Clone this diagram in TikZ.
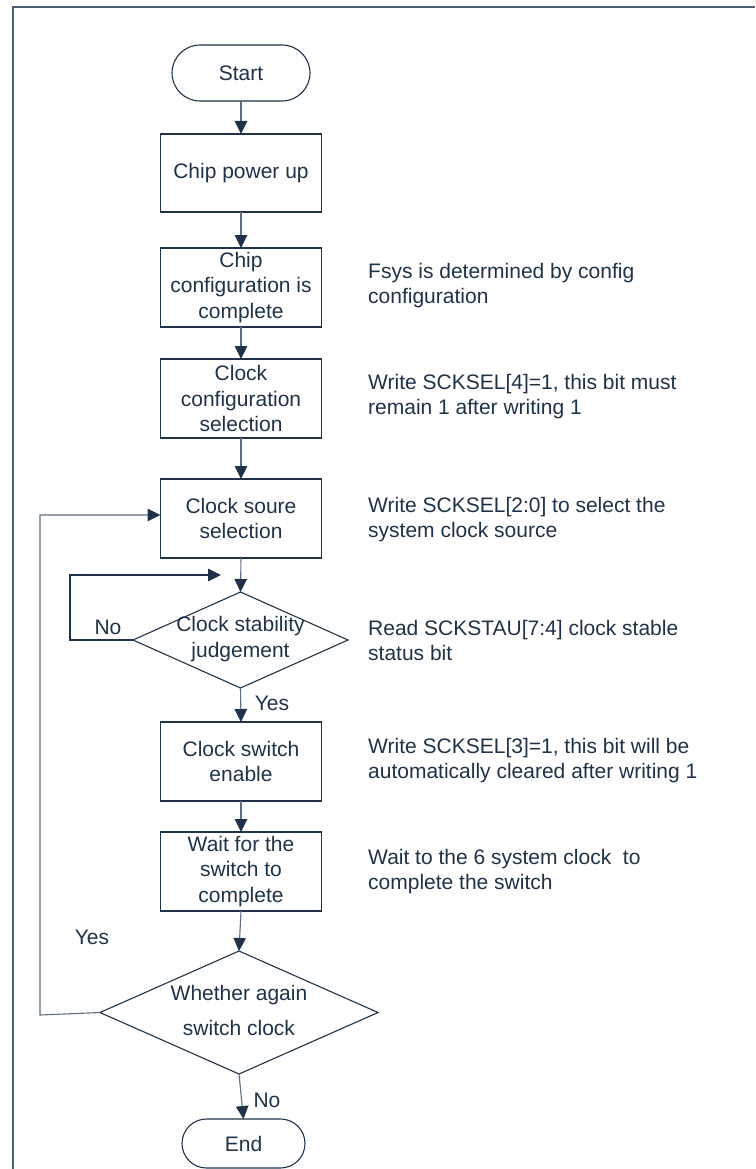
\documentclass[tikz,border=0pt]{standalone}
\usepackage{fontspec}
\setmainfont{Liberation Sans}
\usetikzlibrary{arrows.meta,shapes.geometric,shapes.misc}
\definecolor{navy}{HTML}{1F3247}
\definecolor{lgray}{HTML}{5E6E80}
\definecolor{framec}{HTML}{4A6075}
\begin{document}
\begin{tikzpicture}[x=1pt,y=-1pt,
  font=\fontsize{21}{25.5}\selectfont,
  box/.style={draw=navy, line width=1.1pt, minimum width=161pt, minimum height=79pt,
    inner sep=0pt, outer sep=0pt, align=center, text=navy},
  term/.style={rounded rectangle, draw=navy, line width=1.1pt, inner sep=0pt, outer sep=0pt, text=navy},
  dec/.style={diamond, draw=navy, line width=1.1pt, inner sep=0pt, outer sep=0pt},
  dectext/.style={align=center, text=navy, inner sep=0pt},
  note/.style={anchor=west, align=left, text=navy, inner sep=0pt, font=\fontsize{21}{25}\selectfont},
  lbl/.style={text=navy, inner sep=0pt},
  flow/.style={draw=lgray, line width=1.1pt, -{Triangle[length=13pt,width=12.5pt,color=navy]}},
  loopline/.style={draw=navy, line width=1.1pt, -{Triangle[length=13pt,width=12.5pt,color=navy]}},
]
\useasboundingbox (0,0) rectangle (755,1169);
\draw[framec, line width=1.5pt] (13,1169) -- (13,7) -- (755,7);

\node[term, minimum width=138pt, minimum height=56pt] (start) at (241,73) {Start};
\node[box, minimum height=78pt] (power) at (241,173) {Chip power up};
\node[box] (cfg) at (241,287.5) {Chip\\configuration is\\complete};
\node[box] (clkcfg) at (241,398.5) {Clock\\configuration\\selection};
\node[box] (src) at (241,518.5) {Clock soure\\selection};
\node[dec, minimum width=215pt, minimum height=96pt] (d1) at (240.5,640) {};
\node[dectext] (d1t) at (240.5,639) {Clock stability\\judgement};
\node[box] (en) at (241,761.5) {Clock switch\\enable};
\node[box] (wait) at (241,871.5) {Wait for the\\switch to\\complete};
\node[dec, minimum width=278pt, minimum height=123pt] (d2) at (239,1012.5) {};
\node[dectext, font=\fontsize{21}{35}\selectfont] (d2t) at (239,1010) {Whether again\\switch clock};
\node[term, minimum width=123pt, minimum height=49pt] (end) at (243.5,1143.5) {End};

\node[note] (n1) at (368,286) {Fsys is determined by config\\configuration};
\node[note] (n2) at (368,397) {Write SCKSEL[4]=1, this bit must\\remain 1 after writing 1};
\node[note] (n3) at (368,520) {Write SCKSEL[2:0] to select the\\system clock source};
\node[note] (n4) at (368,640) {Read SCKSTAU[7:4] clock stable\\status bit};
\node[note] (n5) at (368,761) {Write SCKSEL[3]=1, this bit will be\\automatically cleared after writing 1};
\node[note] (n6) at (368,872) {Wait to the 6 system clock\ \ to\\complete the switch};

\node[lbl] (no1) at (108,627) {No};
\node[lbl] (yes1) at (272,703) {Yes};
\node[lbl] (yes2) at (92,937) {Yes};
\node[lbl] (no2) at (267,1100) {No};

\draw[flow] (start.south) -- (power.north);
\draw[flow] (power.south) -- (cfg.north);
\draw[flow] (cfg.south) -- (clkcfg.north);
\draw[flow] (clkcfg.south) -- (src.north);
\draw[flow] (src.south) -- (d1.north);
\draw[flow] (d1.south) -- (en.north);
\draw[flow] (en.south) -- (wait.north);
\draw[flow] (wait.south) -- (d2.north);
\draw[flow] (d2.south) -- (end.north);

\coordinate (noend) at (221,575);
\draw[loopline] (d1.west) -- (70,640) -- (70,575) -- (noend);
\draw[flow] (d2.west) -- (40,1015) -- (40,515) -- (src.west |- 0,515);
\end{tikzpicture}
\end{document}
